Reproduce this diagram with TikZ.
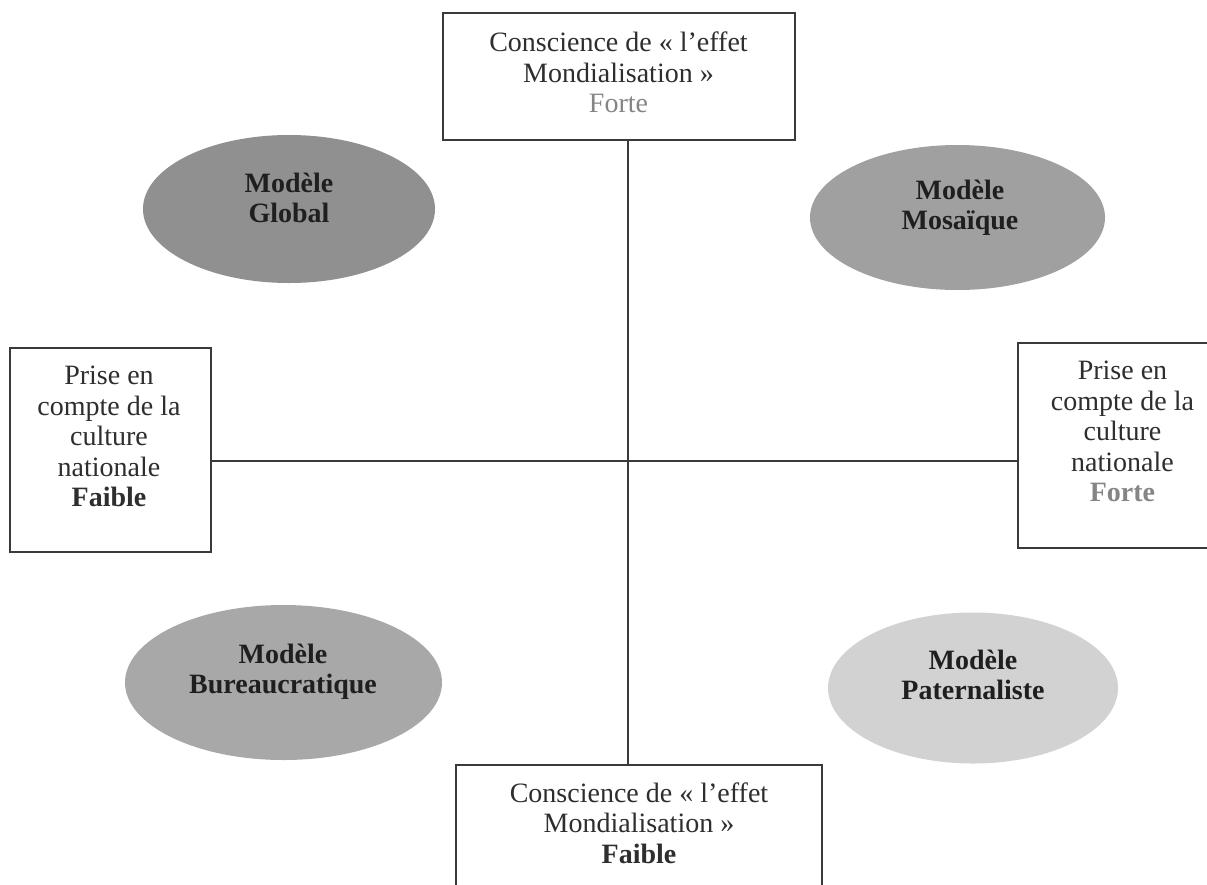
\documentclass[tikz,border=0pt]{standalone}
\usepackage{fontspec}
\setmainfont{Liberation Serif}
\usetikzlibrary{shapes.geometric}
\definecolor{linec}{HTML}{3A3A3A}
\definecolor{txtc}{HTML}{2E2E2E}
\definecolor{greytxt}{HTML}{858585}
\definecolor{ellA}{HTML}{909090}
\definecolor{ellB}{HTML}{A0A0A0}
\definecolor{ellC}{HTML}{A8A8A8}
\definecolor{ellD}{HTML}{D2D2D2}
\tikzset{
  box/.style={draw=linec, line width=2.4pt, fill=white, rectangle, inner sep=0pt},
  txt/.style={align=center, text=txtc, inner sep=0pt, font=\fontsize{28}{30.5}\selectfont},
  btxt/.style={align=center, text=black!88, inner sep=0pt, font=\fontsize{28}{30}\selectfont\bfseries},
  ell/.style={ellipse, draw=none, inner sep=0pt},
  axis/.style={draw=linec, line width=2.4pt}
}
\begin{document}
\begin{tikzpicture}[x=1pt,y=-1pt]
\useasboundingbox (0,0) rectangle (1207,884);
\clip (0,0) rectangle (1207,884);
\fill[white] (0,0) rectangle (1207,884);
\coordinate (cx) at (628,461);
% boxes
\node[box, minimum width=352pt, minimum height=127pt] (top) at (619,76.5) {};
\node[box, minimum width=366pt, minimum height=140pt] (bot) at (639,835) {};
\node[box, minimum width=201pt, minimum height=204pt] (left) at (110.5,450) {};
\node[box, minimum width=210pt, minimum height=205pt] (right) at (1123,445.5) {};
% axes
\draw[axis] (top.south -| cx) -- (bot.north -| cx);
\draw[axis] (left.east |- cx) -- (right.west |- cx);
% box texts
\node[txt] (toptxt) at (618.5,72.5) {Conscience de « l’effet\\Mondialisation »\\\textcolor{greytxt}{Forte}};
\node[txt] (bottxt) at (639,823) {Conscience de « l’effet\\Mondialisation »\\\textbf{Faible}};
\node[txt] (lefttxt) at (109,436.5) {Prise en\\compte de la\\culture\\nationale\\\textbf{Faible}};
\node[txt] (righttxt) at (1122.5,431.5) {Prise en\\compte de la\\culture\\nationale\\\textcolor{greytxt}{\textbf{Forte}}};
% ellipses
\node[ell, fill=ellA, minimum width=292pt, minimum height=148pt] (global) at (289,209) {};
\node[ell, fill=ellB, minimum width=295pt, minimum height=145pt] (mosaique) at (957.5,217.5) {};
\node[ell, fill=ellC, minimum width=317pt, minimum height=155pt] (bureau) at (283.5,682.5) {};
\node[ell, fill=ellD, minimum width=290pt, minimum height=151pt] (pater) at (973,688) {};
\node[btxt] (globaltxt) at (289,198) {Modèle\\Global};
\node[btxt] (mosaiquetxt) at (960,208) {Modèle\\Mosaïque};
\node[btxt] (bureautxt) at (283,672) {Modèle\\Bureaucratique};
\node[btxt] (patertxt) at (973,675) {Modèle\\Paternaliste};
\end{tikzpicture}
\end{document}
